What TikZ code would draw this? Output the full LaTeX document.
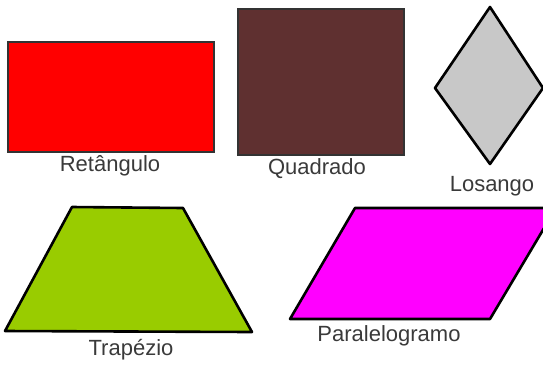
\documentclass[tikz,border=0pt]{standalone}
\usepackage{fontspec}
\setmainfont{Liberation Sans}
\definecolor{labelgray}{HTML}{3A3A3A}
\definecolor{brownsq}{HTML}{5F3030}
\definecolor{lgray}{HTML}{C8C8C8}
\definecolor{lime}{HTML}{99CC00}
\definecolor{magent}{HTML}{FF00FF}
\begin{document}
\begin{tikzpicture}[x=1pt,y=-1pt,
  lbl/.style={text=labelgray,font=\fontsize{22}{24}\selectfont,inner sep=0pt,anchor=center},
  thinshape/.style={draw=black!80,line width=1.3pt},
  thickshape/.style={draw=black,line width=2.6pt,line join=round}]
\useasboundingbox (0,0) rectangle (543,368);
\clip (0,0) rectangle (543,368);
% Rectangle
\filldraw[thinshape,fill=red] (8,42) rectangle (214,152);
% Square
\filldraw[thinshape,fill=brownsq] (238,9) rectangle (404,155);
% Rhombus
\coordinate (rt) at (490,7);
\coordinate (rl) at (435,88);
\coordinate (rb) at (490,164);
\coordinate (rr) at (543,88);
\filldraw[thickshape,fill=lgray] (rt) -- (rr) -- (rb) -- (rl) -- cycle;
% Trapezoid
\coordinate (t1) at (72,207);
\coordinate (t2) at (183,208);
\coordinate (t3) at (252,332);
\coordinate (t4) at (5,331);
\filldraw[thickshape,fill=lime] (t1) -- (t2) -- (t3) -- (t4) -- cycle;
% Parallelogram
\coordinate (p1) at (355,208);
\coordinate (p2) at (556,208);
\coordinate (p3) at (490,319);
\coordinate (p4) at (290,319);
\filldraw[thickshape,fill=magent] (p1) -- (p2) -- (p3) -- (p4) -- cycle;
% Labels
\node[lbl] (lret) at (110,166) {Retângulo};
\node[lbl] (lqua) at (317,169) {Quadrado};
\node[lbl] (llos) at (492,186) {Losango};
\node[lbl] (ltra) at (131,350) {Trapézio};
\node[lbl] (lpar) at (389,336) {Paralelogramo};
\end{tikzpicture}
\end{document}
